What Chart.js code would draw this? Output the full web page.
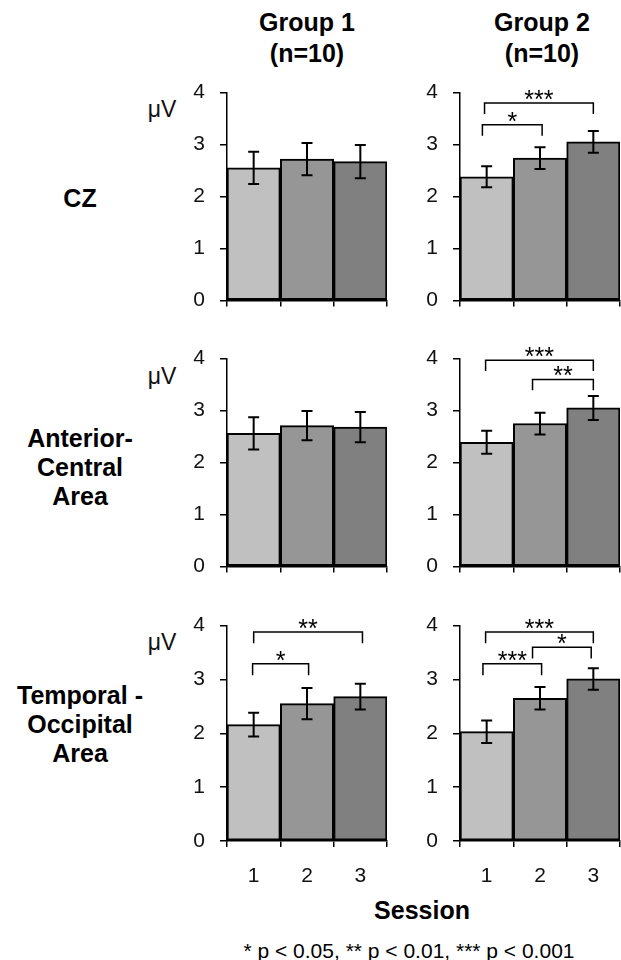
<!DOCTYPE html>
<html>
<head>
<meta charset="utf-8">
<script src="https://cdn.jsdelivr.net/npm/chart.js@4.4.1/dist/chart.umd.min.js"></script>
<style>
  body { margin: 0; background: #fff; }
  #page { position: relative; width: 621px; height: 960px; overflow: hidden;
          font-family: "Liberation Sans", Arial, sans-serif; color: #000; }
  canvas { position: absolute; }
  .txt { position: absolute; text-align: center; white-space: nowrap; }
  .bold { font-weight: bold; font-size: 25px; }
  .unit { font-size: 23px; line-height: 23px; color: #111; }
</style>
</head>
<body>
<div id="page">
  <div class="txt bold" style="left:207px; width:200px; top:7px; line-height:31px;">Group 1<br>(n=10)</div>
  <div class="txt bold" style="left:442px; width:200px; top:7px; line-height:31px;">Group 2<br>(n=10)</div>

  <div class="txt bold" style="left:0; width:160px; top:184px; line-height:29px;">CZ</div>
  <div class="txt bold" style="left:0; width:160px; top:424px; line-height:29px;">Anterior-<br>Central<br>Area</div>
  <div class="txt bold" style="left:0; width:160px; top:681px; line-height:29px;">Temporal -<br>Occipital<br>Area</div>

  <div class="txt unit" style="left:122px; width:80px; top:98px;">μV</div>
  <div class="txt unit" style="left:122px; width:80px; top:365px;">μV</div>
  <div class="txt unit" style="left:122px; width:80px; top:631px;">μV</div>

  <div class="txt bold" style="left:322px; width:200px; top:895px; line-height:30px;">Session</div>
  <div class="txt" style="left:159px; width:500px; top:939px; font-size:21px; line-height:24px;">* p &lt; 0.05, ** p &lt; 0.01, *** p &lt; 0.001</div>

  <canvas id="c11" width="225" height="263" style="left:170px; top:65px;"></canvas>
  <canvas id="c12" width="221" height="263" style="left:400px; top:65px;"></canvas>
  <canvas id="c21" width="225" height="263" style="left:170px; top:331px;"></canvas>
  <canvas id="c22" width="221" height="263" style="left:400px; top:331px;"></canvas>
  <canvas id="c31" width="225" height="293" style="left:170px; top:598px;"></canvas>
  <canvas id="c32" width="221" height="293" style="left:400px; top:598px;"></canvas>
</div>
<script>
"use strict";

const sessions = ['1', '2', '3'];
const yTicks = [0, 1, 2, 3, 4];
const barColors = ['#c0c0c0', '#969696', '#808080'];

// mean amplitude (µV) and error per session
const czGroup1 = [2.55, 2.72, 2.67];
const czGroup1Err = [0.31, 0.31, 0.32];
const czGroup2 = [2.38, 2.74, 3.05];
const czGroup2Err = [0.20, 0.21, 0.21];

const acGroup1 = [2.56, 2.71, 2.68];
const acGroup1Err = [0.31, 0.28, 0.29];
const acGroup2 = [2.39, 2.75, 3.05];
const acGroup2Err = [0.22, 0.21, 0.23];

const toGroup1 = [2.16, 2.55, 2.68];
const toGroup1Err = [0.22, 0.29, 0.24];
const toGroup2 = [2.03, 2.65, 3.01];
const toGroup2Err = [0.21, 0.21, 0.20];

// significance brackets: [from session, to session, bracket height (µV), stars]
const czGroup1Sig = [];
const czGroup2Sig = [[-0.08, 1.04, 3.38, '*'], [-0.04, 2, 3.8, '***']];
const acGroup1Sig = [];
const acGroup2Sig = [[-0.02, 2, 3.97, '***'], [0.86, 2, 3.6, '**']];
const toGroup1Sig = [[-0.02, 1.03, 3.29, '*'], [0, 2.04, 3.88, '**']];
const toGroup2Sig = [[-0.02, 2, 3.88, '***'], [0.86, 1.96, 3.6, '*'], [-0.07, 1.03, 3.29, '***']];

Chart.defaults.font.family = '"Liberation Sans", Arial, sans-serif';
Chart.defaults.color = '#111';

// error bars drawn on top of the bars
const errorBars = {
    id: 'errorBars',
    afterDatasetsDraw(chart) {
        const ds = chart.data.datasets[0];
        const { ctx, scales: { x, y } } = chart;
        ctx.save();
        ctx.strokeStyle = '#000';
        ctx.lineWidth = 2;
        ds.errors.forEach((e, i) => {
            const px = x.getPixelForValue(i);
            const top = y.getPixelForValue(ds.data[i] + e);
            const bot = y.getPixelForValue(ds.data[i] - e);
            ctx.beginPath();
            ctx.moveTo(px, top); ctx.lineTo(px, bot);
            ctx.moveTo(px - 5.5, top); ctx.lineTo(px + 5.5, top);
            ctx.moveTo(px - 5.5, bot); ctx.lineTo(px + 5.5, bot);
            ctx.stroke();
        });
        ctx.restore();
    }
};

// significance brackets with stars
const sigBrackets = {
    id: 'sigBrackets',
    afterDatasetsDraw(chart) {
        const sig = chart.data.datasets[0].sig;
        const { ctx, scales: { x, y } } = chart;
        ctx.save();
        ctx.strokeStyle = '#000';
        ctx.fillStyle = '#000';
        ctx.lineWidth = 1.5;
        ctx.font = '25px "Liberation Sans", Arial, sans-serif';
        ctx.textAlign = 'center';
        ctx.textBaseline = 'alphabetic';
        sig.forEach(([a, b, h, stars]) => {
            const x1 = x.getPixelForValue(a);
            const x2 = x.getPixelForValue(b);
            const yTop = y.getPixelForValue(h);
            const yLeg = y.getPixelForValue(h - 0.21);
            ctx.beginPath();
            ctx.moveTo(x1, yLeg); ctx.lineTo(x1, yTop);
            ctx.lineTo(x2, yTop); ctx.lineTo(x2, yLeg);
            ctx.stroke();
            ctx.fillText(stars, (x1 + x2) / 2, yTop + 5);
        });
        ctx.restore();
    }
};

function drawPanel(id, values, errors, sig, yWidth, padRight, bottomRow) {
    const ctx = document.getElementById(id).getContext('2d');
    return new Chart(ctx, {
        type: 'bar',
        data: {
            labels: sessions,
            datasets: [{
                data: values,
                errors: errors,
                sig: sig,
                backgroundColor: barColors,
                borderColor: '#000',
                borderWidth: 2,
                borderSkipped: false,
                barPercentage: 1,
                categoryPercentage: 1
            }]
        },
        options: {
            responsive: false,
            animation: false,
            devicePixelRatio: 1,
            layout: { padding: { top: 24, right: padRight, left: 0, bottom: 0 } },
            plugins: { legend: { display: false }, tooltip: { enabled: false } },
            scales: {
                x: {
                    grid: { drawOnChartArea: false, drawTicks: true, tickLength: 6, color: '#000', lineWidth: 1.5 },
                    border: { display: true, color: '#000', width: 1.5 },
                    ticks: { display: bottomRow, font: { size: 21 }, padding: 17, maxRotation: 0, autoSkip: false },
                    afterFit: s => { s.height = bottomRow ? 50 : 20; }
                },
                y: {
                    min: 0,
                    max: 4,
                    afterBuildTicks: s => { s.ticks = yTicks.map(v => ({ value: v })); },
                    grid: { drawOnChartArea: false, drawTicks: true, tickLength: 7, color: '#000', lineWidth: 1.5 },
                    border: { display: true, color: '#000', width: 1.5 },
                    ticks: { font: { size: 21 }, padding: 15 },
                    afterFit: s => { s.width = yWidth; }
                }
            }
        },
        plugins: [errorBars, sigBrackets]
    });
}

drawPanel('c11', czGroup1, czGroup1Err, czGroup1Sig, 57, 8, false);
drawPanel('c12', czGroup2, czGroup2Err, czGroup2Sig, 60, 1, false);
drawPanel('c21', acGroup1, acGroup1Err, acGroup1Sig, 57, 8, false);
drawPanel('c22', acGroup2, acGroup2Err, acGroup2Sig, 60, 1, false);
drawPanel('c31', toGroup1, toGroup1Err, toGroup1Sig, 57, 8, true);
drawPanel('c32', toGroup2, toGroup2Err, toGroup2Sig, 60, 1, true);
</script>
</body>
</html>
